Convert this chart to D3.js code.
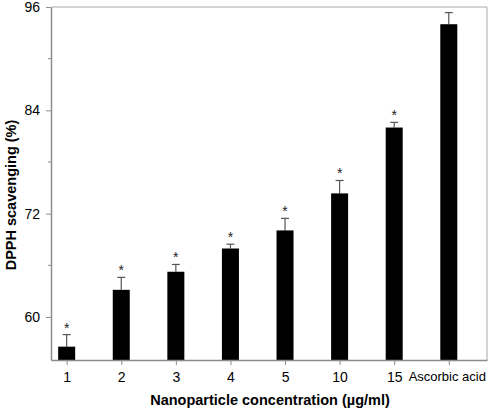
<!DOCTYPE html>
<html>
<head>
<meta charset="utf-8">
<script src="https://cdn.jsdelivr.net/npm/d3@7"></script>
<style>
  body { margin: 0; background: #fff; }
  text { font-family: "Liberation Sans", Arial, sans-serif; }
</style>
</head>
<body>
<div id="chart"></div>
<script>
const categories = ["1", "2", "3", "4", "5", "10", "15", "Ascorbic acid"];
const scavenging = [56.55, 63.15, 65.25, 67.95, 70.05, 74.35, 82.0, 94.0];
const errors = [1.4, 1.45, 0.85, 0.5, 1.4, 1.5, 0.6, 1.35];
const significant = [true, true, true, true, true, true, true, false];
const yTicks = [60, 72, 84, 96];
const yMinorTicks = [66, 78, 90];

const width = 489;
const height = 408;
const margin = { top: 7, right: 2, bottom: 48, left: 51 };

const svg = d3.select("#chart")
    .append("svg")
    .attr("width", width)
    .attr("height", height);

const x = d3.scaleLinear()
    .domain([0.713, 8.7])
    .range([margin.left, width - margin.right]);

const y = d3.scaleLinear()
    .domain([55, 96])
    .range([height - margin.bottom, margin.top]);

const barWidth = 17;
const axisColor = "#8c8c8c";

// frame (top and right)
svg.append("path")
    .attr("d", `M${margin.left},${margin.top}H${width - margin.right}V${height - margin.bottom}`)
    .attr("fill", "none")
    .attr("stroke", "#a8a8a8")
    .attr("stroke-width", 1);

const data = categories.map((c, i) => ({
    cat: c, idx: i + 1, value: scavenging[i], err: errors[i], sig: significant[i]
}));

// error bars
const errG = svg.append("g").attr("stroke", "#555").attr("stroke-width", 1.2);
errG.selectAll("line.stem")
    .data(data)
    .enter()
    .append("line")
    .attr("x1", (d) => x(d.idx))
    .attr("x2", (d) => x(d.idx))
    .attr("y1", (d) => y(d.value))
    .attr("y2", (d) => y(d.value + d.err));
errG.selectAll("line.cap")
    .data(data)
    .enter()
    .append("line")
    .attr("x1", (d) => x(d.idx) - 4)
    .attr("x2", (d) => x(d.idx) + 4)
    .attr("y1", (d) => y(d.value + d.err))
    .attr("y2", (d) => y(d.value + d.err));

// bars
svg.selectAll("rect.bar")
    .data(data)
    .enter()
    .append("rect")
    .attr("x", (d) => x(d.idx) - barWidth / 2)
    .attr("y", (d) => y(d.value))
    .attr("width", barWidth)
    .attr("height", (d) => y(55) - y(d.value))
    .attr("fill", "#000");

// significance stars
svg.selectAll("text.star")
    .data(data.filter((d) => d.sig))
    .enter()
    .append("text")
    .attr("x", (d) => x(d.idx))
    .attr("y", (d) => y(d.value + d.err) - 2)
    .attr("text-anchor", "middle")
    .style("font-size", "14px")
    .attr("fill", "#222")
    .text("*");

// y axis
const yAxis = svg.append("g")
    .attr("transform", `translate(${margin.left},0)`)
    .call(d3.axisLeft(y).tickValues(yTicks).tickSize(5).tickPadding(6).tickSizeOuter(0));
yAxis.select(".domain").attr("stroke", axisColor).attr("stroke-width", 1.5);
yAxis.selectAll(".tick line").attr("stroke", axisColor);
yAxis.selectAll(".tick text").style("font-size", "14px").attr("fill", "#000");

svg.append("g")
    .attr("transform", `translate(${margin.left},0)`)
    .selectAll("line")
    .data(yMinorTicks)
    .enter()
    .append("line")
    .attr("x1", -3)
    .attr("x2", 0)
    .attr("y1", (d) => y(d))
    .attr("y2", (d) => y(d))
    .attr("stroke", axisColor);

// x axis
const xAxis = svg.append("g")
    .attr("transform", `translate(0,${height - margin.bottom})`)
    .call(d3.axisBottom(x)
        .tickValues(d3.range(1, categories.length + 1))
        .tickFormat((d) => categories[d - 1])
        .tickSize(5).tickPadding(7).tickSizeOuter(0));
xAxis.select(".domain").attr("stroke", axisColor).attr("stroke-width", 1.5);
xAxis.selectAll(".tick line").attr("stroke", axisColor);
xAxis.selectAll(".tick text").style("font-size", "14px").attr("fill", "#000");
// the long last label is squeezed to stay inside the frame
xAxis.selectAll(".tick text")
    .filter((d) => d === categories.length)
    .style("font-size", "13px")
    .attr("dx", "-2");

// axis titles
svg.append("text")
    .attr("x", 270)
    .attr("y", 405)
    .attr("text-anchor", "middle")
    .style("font-size", "14.5px")
    .style("font-weight", "bold")
    .text("Nanoparticle concentration (\u00b5g/ml)");

svg.append("text")
    .attr("transform", "rotate(-90)")
    .attr("x", -195)
    .attr("y", 16)
    .attr("text-anchor", "middle")
    .style("font-size", "14.5px")
    .style("font-weight", "bold")
    .text("DPPH scavenging (%)");
</script>
</body>
</html>
